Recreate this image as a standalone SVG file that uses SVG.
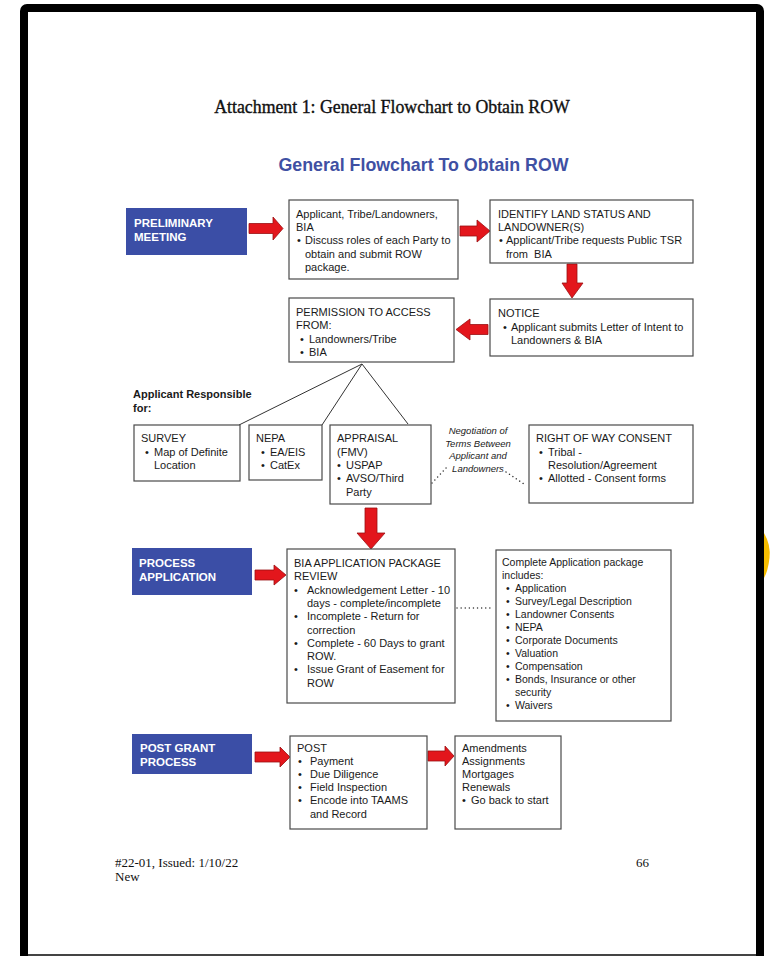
<svg xmlns="http://www.w3.org/2000/svg" width="772" height="956" viewBox="0 0 772 956">
<style>
.bx{fill:#fff;stroke:#4a4a4a;stroke-width:1.2}
.bl{fill:#3b4ea6}
.bt{font-family:"Liberation Sans",Arial,sans-serif;font-size:11.5px;font-weight:bold;fill:#fff}
.t{font-family:"Liberation Sans",Arial,sans-serif;font-size:11px;fill:#1a1a1a}
.ts{font-family:"Liberation Sans",Arial,sans-serif;font-size:10.5px;fill:#1a1a1a}
.ti{font-family:"Liberation Sans",Arial,sans-serif;font-size:9.5px;font-style:italic;fill:#1a1a1a}
.tb{font-family:"Liberation Sans",Arial,sans-serif;font-size:11px;font-weight:bold;fill:#1a1a1a}
.ar{fill:#e3161c;stroke:#9a0f12;stroke-width:0.8}
.ln{stroke:#333;stroke-width:1;fill:none}
.dt{stroke:#333;stroke-width:1.4;stroke-dasharray:0.1 4;stroke-linecap:round;fill:none}
.serif{font-family:"Liberation Serif","Times New Roman",serif;fill:#111}
</style>
<rect width="772" height="956" fill="#fff"/>
<path d="M764,533 Q771,545 769.5,558 Q768,571 764,578 Z" fill="#f6bd00"/>
<rect x="24" y="8" width="736" height="960" rx="3" fill="none" stroke="#000" stroke-width="8"/>
<line x1="28" y1="955" x2="756" y2="955" stroke="#444" stroke-width="2"/>

<text class="serif" x="392" y="113" text-anchor="middle" font-size="17.8" stroke="#111" stroke-width="0.35">Attachment 1: General Flowchart to Obtain ROW</text>
<text x="423.5" y="171" text-anchor="middle" font-family="Liberation Sans,Arial,sans-serif" font-size="17.8" font-weight="bold" fill="#3f50a3">General Flowchart To Obtain ROW</text>

<g id="connectors">
<polygon class="ar" points="249,223.5 273,223.5 273,217 283,228.5 273,240 273,233.5 249,233.5"/>
<polygon class="ar" points="460,226 477,226 477,220 490,231 477,242 477,236 460,236"/>
<polygon class="ar" points="567,264 577,264 577,283 583,283 572,298 562,283 567,283"/>
<polygon class="ar" points="488,324.5 470,324.5 470,319 456,329.5 470,340 470,334.5 488,334.5"/>
<polyline class="ln" points="239,425 362,364 322,425"/>
<line class="ln" x1="362" y1="364" x2="408" y2="424"/>
<line class="dt" x1="432" y1="483" x2="447" y2="467"/>
<line class="dt" x1="506" y1="472" x2="524" y2="484"/>
<polygon class="ar" points="365,508 377,508 377,533 385,533 371,549 357,533 365,533"/>
<polygon class="ar" points="255,570 274,570 274,565 286,575 274,585 274,580 255,580"/>
<line class="dt" x1="457" y1="608" x2="492" y2="608"/>
<polygon class="ar" points="255,752 280,752 280,747 290,757 280,767 280,762 255,762"/>
<polygon class="ar" points="428,751 445,751 445,746 454,756 445,766 445,761 428,761"/>
</g>

<g id="preliminary">
<rect class="bl" x="126" y="208" width="121" height="47"/>
<text class="bt" x="134" y="227">PRELIMINARY</text>
<text class="bt" x="134" y="241">MEETING</text>
</g>

<g id="applicant-tribe">
<rect class="bx" x="289" y="200" width="169" height="79"/>
<text class="t" x="296" y="218">Applicant, Tribe/Landowners,</text>
<text class="t" x="296" y="231">BIA</text>
<text class="t" x="297" y="244">•</text>
<text class="t" x="305" y="244">Discuss roles of each Party to</text>
<text class="t" x="305" y="257.5">obtain and submit ROW</text>
<text class="t" x="305" y="271">package.</text>
</g>

<g id="identify">
<rect class="bx" x="490" y="200" width="203" height="63"/>
<text class="t" x="498" y="218">IDENTIFY LAND STATUS AND</text>
<text class="t" x="498" y="231">LANDOWNER(S)</text>
<text class="t" x="499" y="244">•</text>
<text class="t" x="506" y="244">Applicant/Tribe requests Public TSR</text>
<text class="t" x="506" y="257.5" xml:space="preserve">from  BIA</text>
</g>

<g id="notice">
<rect class="bx" x="490" y="299" width="203" height="57"/>
<text class="t" x="498" y="317">NOTICE</text>
<text class="t" x="503" y="330.5">•</text>
<text class="t" x="511" y="330.5">Applicant submits Letter of Intent to</text>
<text class="t" x="511" y="344">Landowners &amp; BIA</text>
</g>

<g id="permission">
<rect class="bx" x="289" y="298" width="165" height="64"/>
<text class="t" x="296" y="316">PERMISSION TO ACCESS</text>
<text class="t" x="296" y="329">FROM:</text>
<text class="t" x="300" y="342.5">•</text>
<text class="t" x="309" y="342.5">Landowners/Tribe</text>
<text class="t" x="300" y="356">•</text>
<text class="t" x="309" y="356">BIA</text>
</g>

<g id="applicant-responsible">
<text class="tb" x="133" y="398">Applicant Responsible</text>
<text class="tb" x="133" y="412">for:</text>
</g>

<g id="survey">
<rect class="bx" x="134" y="425" width="106" height="56"/>
<text class="t" x="141" y="442">SURVEY</text>
<text class="t" x="145" y="455.5">•</text>
<text class="t" x="154" y="455.5">Map of Definite</text>
<text class="t" x="154" y="469">Location</text>
</g>

<g id="nepa">
<rect class="bx" x="249" y="425" width="73" height="55"/>
<text class="t" x="256" y="442">NEPA</text>
<text class="t" x="261" y="455.5">•</text>
<text class="t" x="270" y="455.5">EA/EIS</text>
<text class="t" x="261" y="469">•</text>
<text class="t" x="270" y="469">CatEx</text>
</g>

<g id="appraisal">
<rect class="bx" x="330" y="425" width="101" height="79"/>
<text class="t" x="337" y="442">APPRAISAL</text>
<text class="t" x="337" y="455.5">(FMV)</text>
<text class="t" x="337" y="469">•</text>
<text class="t" x="346" y="469">USPAP</text>
<text class="t" x="337" y="482">•</text>
<text class="t" x="346" y="482">AVSO/Third</text>
<text class="t" x="346" y="495.5">Party</text>
</g>

<g id="negotiation">
<text class="ti" x="478" y="434" text-anchor="middle">Negotiation of</text>
<text class="ti" x="478" y="446.5" text-anchor="middle">Terms Between</text>
<text class="ti" x="478" y="459" text-anchor="middle">Applicant and</text>
<text class="ti" x="478" y="471.5" text-anchor="middle">Landowners</text>
</g>

<g id="row-consent">
<rect class="bx" x="529" y="425" width="164" height="78"/>
<text class="t" x="536" y="442">RIGHT OF WAY CONSENT</text>
<text class="t" x="539" y="455.5">•</text>
<text class="t" x="548" y="455.5">Tribal -</text>
<text class="t" x="548" y="469">Resolution/Agreement</text>
<text class="t" x="539" y="482">•</text>
<text class="t" x="548" y="482">Allotted - Consent forms</text>
</g>

<g id="process-application">
<rect class="bl" x="132" y="548" width="120" height="47"/>
<text class="bt" x="139" y="567">PROCESS</text>
<text class="bt" x="139" y="581">APPLICATION</text>
</g>

<g id="bia-review">
<rect class="bx" x="287" y="549" width="168" height="154"/>
<text class="t" x="294" y="567">BIA APPLICATION PACKAGE</text>
<text class="t" x="294" y="580">REVIEW</text>
<text class="t" x="294" y="593.5">•</text>
<text class="t" x="307" y="593.5">Acknowledgement Letter - 10</text>
<text class="t" x="307" y="607">days - complete/incomplete</text>
<text class="t" x="294" y="620">•</text>
<text class="t" x="307" y="620">Incomplete - Return for</text>
<text class="t" x="307" y="633.5">correction</text>
<text class="t" x="294" y="647">•</text>
<text class="t" x="307" y="647">Complete - 60 Days to grant</text>
<text class="t" x="307" y="660">ROW.</text>
<text class="t" x="294" y="673">•</text>
<text class="t" x="307" y="673">Issue Grant of Easement for</text>
<text class="t" x="307" y="686.5">ROW</text>
</g>

<g id="complete-package">
<rect class="bx" x="496" y="550" width="175" height="171"/>
<text class="ts" x="502" y="566">Complete Application package</text>
<text class="ts" x="502" y="579">includes:</text>
<text class="ts" x="506" y="592">•</text><text class="ts" x="515" y="592">Application</text>
<text class="ts" x="506" y="605">•</text><text class="ts" x="515" y="605">Survey/Legal Description</text>
<text class="ts" x="506" y="618">•</text><text class="ts" x="515" y="618">Landowner Consents</text>
<text class="ts" x="506" y="631">•</text><text class="ts" x="515" y="631">NEPA</text>
<text class="ts" x="506" y="644">•</text><text class="ts" x="515" y="644">Corporate Documents</text>
<text class="ts" x="506" y="657">•</text><text class="ts" x="515" y="657">Valuation</text>
<text class="ts" x="506" y="670">•</text><text class="ts" x="515" y="670">Compensation</text>
<text class="ts" x="506" y="683">•</text><text class="ts" x="515" y="683">Bonds, Insurance or other</text>
<text class="ts" x="515" y="696">security</text>
<text class="ts" x="506" y="709">•</text><text class="ts" x="515" y="709">Waivers</text>
</g>

<g id="post-grant">
<rect class="bl" x="132" y="734" width="120" height="40"/>
<text class="bt" x="140" y="752">POST GRANT</text>
<text class="bt" x="140" y="766">PROCESS</text>
</g>

<g id="post">
<rect class="bx" x="290" y="736" width="137" height="93"/>
<text class="t" x="297" y="752">POST</text>
<text class="t" x="298" y="765">•</text><text class="t" x="310" y="765">Payment</text>
<text class="t" x="298" y="778">•</text><text class="t" x="310" y="778">Due Diligence</text>
<text class="t" x="298" y="791">•</text><text class="t" x="310" y="791">Field Inspection</text>
<text class="t" x="298" y="804">•</text><text class="t" x="310" y="804">Encode into TAAMS</text>
<text class="t" x="310" y="818">and Record</text>
</g>

<g id="amendments">
<rect class="bx" x="455" y="736" width="106" height="93"/>
<text class="t" x="462" y="752">Amendments</text>
<text class="t" x="462" y="765">Assignments</text>
<text class="t" x="462" y="778">Mortgages</text>
<text class="t" x="462" y="791">Renewals</text>
<text class="t" x="462" y="804">•</text><text class="t" x="471" y="804">Go back to start</text>
</g>

<g id="footer">
<text class="serif" x="115" y="867" font-size="13">#22-01, Issued: 1/10/22</text>
<text class="serif" x="115" y="881" font-size="13">New</text>
<text class="serif" x="636" y="867" font-size="13">66</text>
</g>
</svg>
